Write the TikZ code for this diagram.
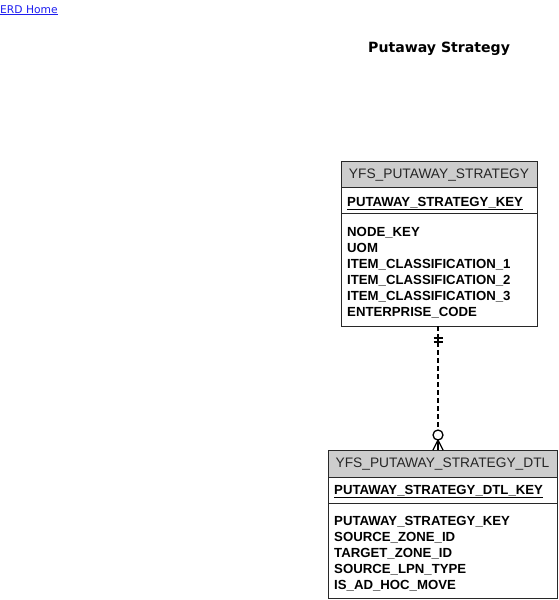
\documentclass[tikz,border=0pt]{standalone}
\usepackage{fontspec}
\setmainfont{Liberation Sans}
\newfontfamily\titlefont{DejaVu Sans}
\definecolor{hdrgray}{RGB}{205,205,205}
\definecolor{edge}{RGB}{40,40,40}
\definecolor{linkblue}{RGB}{30,30,240}
\begin{document}
\begin{tikzpicture}[x=1pt,y=-1pt,
  box/.style={draw=edge,line width=1pt,fill=white,inner sep=0pt,outer sep=0pt,anchor=north west},
  hdr/.style={draw=edge,line width=1pt,fill=hdrgray,inner sep=0pt,outer sep=0pt,anchor=north west},
  hdrtext/.style={inner sep=0pt,anchor=base,text=black!85,font=\fontsize{13.75}{16}\selectfont},
  keytext/.style={inner sep=0pt,anchor=base west,font=\bfseries\fontsize{13.2}{16}\selectfont},
  rowtext/.style={inner sep=0pt,anchor=base west,font=\bfseries\fontsize{13.2}{16}\selectfont},
  rel/.style={draw=black,line width=1.3pt},
]
\useasboundingbox (0,0) rectangle (558,600);
% link and title
\node[inner sep=0pt,anchor=base west,text=linkblue,font=\titlefont\fontsize{10.7}{12}\selectfont] (home) at (0,13) {\underline{ERD Home}};
\node[inner sep=0pt,anchor=base west,font=\titlefont\bfseries\fontsize{14.1}{16}\selectfont] (title) at (368,52.5) {Putaway Strategy};

% top table
\node[box,minimum width=196pt,minimum height=165pt] (t) at (341,161) {};
\node[hdr,minimum width=196pt,minimum height=26pt] (th) at (341,161) {};
\node[box,minimum width=196pt,minimum height=26pt] (tk) at (341,187) {};
\node[hdrtext] (thl) at (439,178.8) {YFS\_PUTAWAY\_STRATEGY};
\node[keytext] (tkl) at (347,206.5) {\underline{PUTAWAY\_STRATEGY\_KEY}};
\foreach \txt [count=\i from 0] in {NODE\_KEY,UOM,ITEM\_CLASSIFICATION\_1,ITEM\_CLASSIFICATION\_2,ITEM\_CLASSIFICATION\_3,ENTERPRISE\_CODE}
  \node[rowtext] (tr\i) at (347,236.5+16*\i) {\txt};

% bottom table
\node[box,minimum width=229pt,minimum height=148pt] (d) at (328,450) {};
\node[hdr,minimum width=229pt,minimum height=27pt] (dh) at (328,450) {};
\node[box,minimum width=229pt,minimum height=26pt] (dk) at (328,477) {};
\node[hdrtext] (dhl) at (442.5,467.8) {YFS\_PUTAWAY\_STRATEGY\_DTL};
\node[keytext] (dkl) at (334,494) {\underline{PUTAWAY\_STRATEGY\_DTL\_KEY}};
\foreach \txt [count=\i from 0] in {PUTAWAY\_STRATEGY\_KEY,SOURCE\_ZONE\_ID,TARGET\_ZONE\_ID,SOURCE\_LPN\_TYPE,IS\_AD\_HOC\_MOVE}
  \node[rowtext] (dr\i) at (334,525.8+16*\i) {\txt};

% relationship (yshift is in page direction: negative = downward)
\coordinate (ra) at ([xshift=-1pt]t.south);
\coordinate (rb) at (ra |- d.north);
\coordinate (rc) at ([yshift=15pt]rb);
\draw[rel,dash pattern=on 5pt off 3pt] (ra) -- ([yshift=5pt]rc);
\draw[rel] ([yshift=-12pt]ra) -- ([yshift=-16pt]ra);
\draw[rel] ([xshift=-4.5pt,yshift=-12pt]ra) -- ([xshift=4.5pt,yshift=-12pt]ra);
\draw[rel] ([xshift=-4.5pt,yshift=-16pt]ra) -- ([xshift=4.5pt,yshift=-16pt]ra);
\draw[rel,fill=white] (rc) circle (5pt);
\draw[rel] ([yshift=10pt]rb) -- ([xshift=-5pt]rb);
\draw[rel] ([yshift=10pt]rb) -- (rb);
\draw[rel] ([yshift=10pt]rb) -- ([xshift=5pt]rb);
\end{tikzpicture}
\end{document}
